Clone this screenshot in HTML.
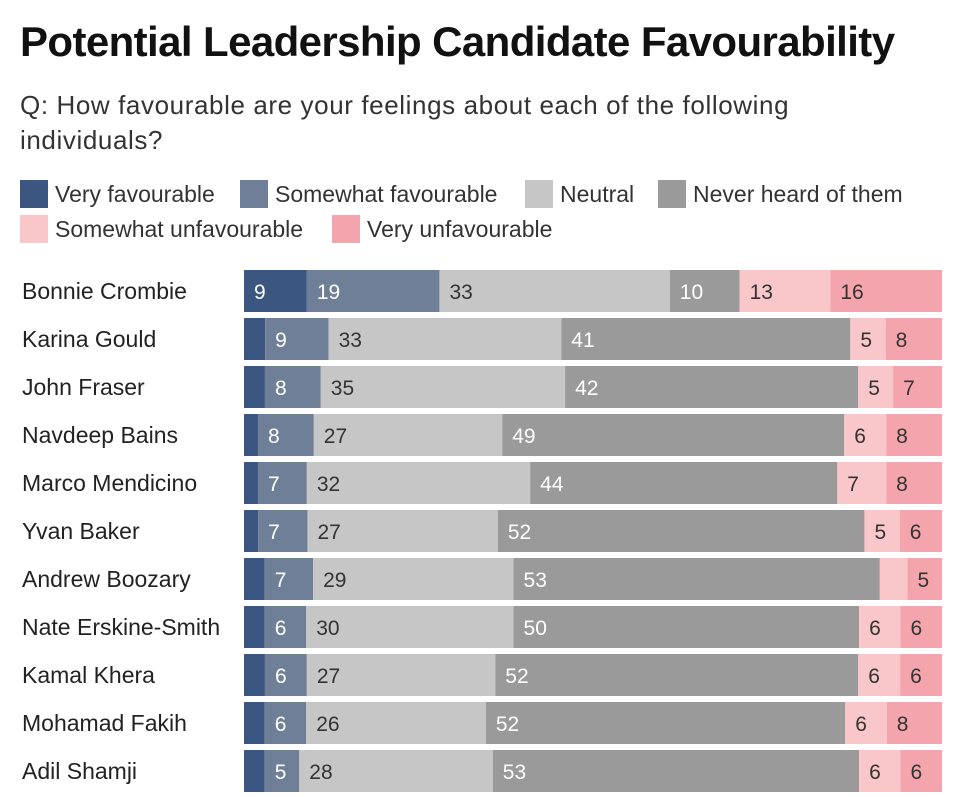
<!DOCTYPE html>
<html><head><meta charset="utf-8"><style>
body{margin:0;width:964px;height:797px;background:#fff;font-family:"Liberation Sans",sans-serif;overflow:hidden;position:relative;color:#222}
.t{position:absolute;left:20px;top:18px;font-size:42px;font-weight:bold;letter-spacing:-0.6px;color:#111}
.s{position:absolute;left:20px;top:88px;font-size:26px;line-height:35px;color:#333;width:830px;letter-spacing:0.6px}
.lg{position:absolute;font-size:23px;color:#333;display:flex;align-items:center}
.lg i{display:inline-block;width:28px;height:28px;margin-right:7px}
</style></head><body>
<div class="t">Potential Leadership Candidate Favourability</div>
<div class="s">Q: How favourable are your feelings about each of the following individuals?</div>
<div id="legend"></div>
<svg id="chart" width="964" height="797" style="position:absolute;left:0;top:0"></svg>
<script>
const categories=["Bonnie Crombie","Karina Gould","John Fraser","Navdeep Bains","Marco Mendicino","Yvan Baker","Andrew Boozary","Nate Erskine-Smith","Kamal Khera","Mohamad Fakih","Adil Shamji"];
const seriesNames=["Very favourable","Somewhat favourable","Neutral","Never heard of them","Somewhat unfavourable","Very unfavourable"];
const veryFav=[9,3,3,2,2,2,3,3,3,3,3];
const somewhatFav=[19,9,8,8,7,7,7,6,6,6,5];
const neutral=[33,33,35,27,32,27,29,30,27,26,28];
const neverHeard=[10,41,42,49,44,52,53,50,52,52,53];
const somewhatUnfav=[13,5,5,6,7,5,4,6,6,6,6];
const veryUnfav=[16,8,7,8,8,6,5,6,6,8,6];
const colors=["#3b5680","#6f7f98","#c6c6c6","#9a9a9a","#f9c7ca","#f4a4ac"];
const textColors=["#fff","#fff","#333","#fff","#333","#333"];
const series=[veryFav,somewhatFav,neutral,neverHeard,somewhatUnfav,veryUnfav];
const ns="http://www.w3.org/2000/svg";
const svg=document.getElementById('chart');
const x0=244,x1=942,rowTop=270,rowStep=48,barH=42;
const lg=document.getElementById('legend');
const lpos=[[20,180],[240,180],[525,180],[658,180],[20,215],[332,215]];
seriesNames.forEach((n,i)=>{
  const d=document.createElement('div');
  d.className='lg';d.style.left=lpos[i][0]+'px';d.style.top=lpos[i][1]+'px';
  
  
  d.innerHTML='<i style="background:'+colors[i]+'"></i>'+n;
  lg.appendChild(d);
});
categories.forEach((c,r)=>{
  const y=rowTop+r*rowStep;
  const lab=document.createElementNS(ns,'text');
  lab.setAttribute('x',22);lab.setAttribute('y',y+barH/2+8);
  lab.setAttribute('font-size','23');lab.setAttribute('fill','#222');
  
  
  lab.textContent=c;svg.appendChild(lab);
  let total=0;series.forEach(s=>total+=s[r]);
  const sc=(x1-x0)/total;
  let cx=x0;
  series.forEach((s,i)=>{
    const w=s[r]*sc;
    const rc=document.createElementNS(ns,'rect');
    rc.setAttribute('x',cx);rc.setAttribute('y',y);rc.setAttribute('width',w);rc.setAttribute('height',barH);
    rc.setAttribute('fill',colors[i]);
    
    
    svg.appendChild(rc);
    if(s[r]>=5){
      const t=document.createElementNS(ns,'text');
      t.setAttribute('x',cx+10);t.setAttribute('y',y+barH/2+8);
      t.setAttribute('font-size','21');t.setAttribute('fill',textColors[i]);
      
      
      t.textContent=s[r];svg.appendChild(t);
    }
    cx+=w;
  });
});
</script>
</body></html>
